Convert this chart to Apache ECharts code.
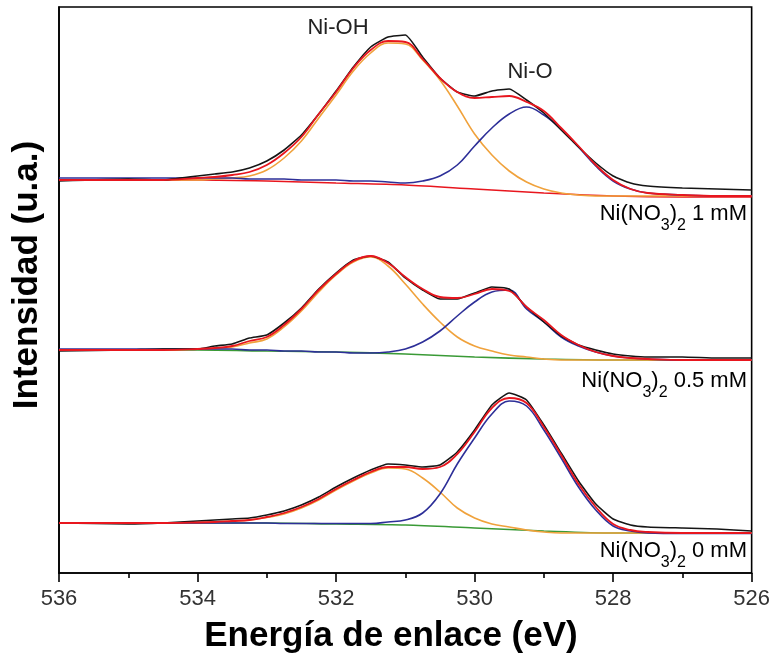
<!DOCTYPE html>
<html>
<head>
<meta charset="utf-8">
<script src="https://cdn.jsdelivr.net/npm/echarts@6/dist/echarts.min.js"></script>
<style>
html,body{margin:0;padding:0;background:#fff;}
#chart{width:773px;height:658px;}
</style>
</head>
<body>
<div id="chart"></div>
<script>
// Binding energy grid (eV) for all curves
const energy = [536, 535, 534.5, 534, 533.75, 533.5, 533.25, 533, 532.75, 532.5, 532.25, 532, 531.75, 531.5, 531.25, 531, 530.75, 530.5, 530.25, 530, 529.75, 529.5, 529.25, 529, 528.75, 528.5, 528.25, 528, 527.75, 527.5, 527, 526.5, 526];

// Ni(NO3)2 1 mM (top)
const raw1mM   = [392,394,393,397,399,401,405,412,423,438,459,482,506,526,536,538,516,495,481,477,482,484,473,460,443,426,410,397,390,387,385,384,383];
const fit1mM   = [393,393,393,395,396,398,401,408,420,436,459,481,505,523,532,531,514,495,481,475,476,477,471,462,445,427,408,393,384,380,378,377,377];
const niOH1mM  = [393,393,393,393,394,395,397,403,415,432,455,478,502,520,530,529,513,493,467,439,418,402,391,384,380,378,377,377,377,377,377,377,377];
const niO1mM   = [395,395,395,395,395,395,394,394,394,393,393,393,392,392,391,390,392,397,408,427,445,459,466,458,444,426,407,392,384,380,378,377,377];
const bgEnergy1mM = [536, 534, 533, 532, 531, 530, 529, 528, 527, 526];
const bg1mM    = [393,393,392,390,388,384,380,377,376,376];

// Ni(NO3)2 0.5 mM (middle)
const raw05mM  = [222,223,224,224,227,229,235,238,250,265,284,300,313,317,311,295,283,274,274,280,286,284,266,251,237,228,223,219,217,216,216,215,215];
const fit05mM  = [223,223,223,224,225,227,232,236,248,264,283,299,312,317,310,296,284,276,275,279,284,282,266,253,238,228,221,217,215,214,213,213,213];
const niOH05mM = [223,223,223,224,224.5,226,230,234,246,262,281,298,311,316,307,289,269,251,236,227,222,218,216,214,213,213,213,213,213,213,213,213,213];
const niO05mM  = [224,224,224,224,224,224,223,223,222,222,221,221,220,220,221,224,231,242,257,271,281,283,264,251,236,227,221,217,215,214,213,213,213];
const bgEnergy05mM = [536, 534, 533, 532, 531, 530, 529, 528, 526];
const bg05mM   = [223,223,222,221,219,216,214,213,213];

// Ni(NO3)2 0 mM (bottom)
const raw0mM   = [50,49,50,52,53,54,55,58,62,68,76,86,95,103,109,108,106,108,121,143,168,180,173,148,120,92,69,54,48,46,45,44,42];
const fit0mM   = [50,50,50,50.5,51,52,53,56,60,66,74,84,93,101,106,106,104,106,119,141,165,175,170,146,118,89,66,49,43,41,40,40,40];
const niOH0mM  = [50,50,50,50.5,51,52,53,55.5,59,65,73,83,92,100,105,104,95,81,65,55,49,46,43,41,40,40,40,40,40,40,40,40,40];
const niO0mM   = [50,50,50,50,50,50,50,50,49.5,49.5,49.5,49.5,49.5,49.5,51,53,60,79,109,135,159,172,167,143,115,86,63,47,42,40,39.5,39.5,39.5];
const bgEnergy0mM = [536, 533, 532, 531, 530, 529, 528, 526];
const bg0mM    = [50,50,49,48,45,42,40,40];

// Axis ticks / labels
const xMin = 526, xMax = 536, xStep = 2;
const peakLabels = ['Ni-OH', 'Ni-O'];
const sampleConc = ['1 mM', '0.5 mM', '0 mM'];

const C = {raw:'#151515', fit:'#e8161e', oh:'#f0a23c', o:'#2d2f98', bgRed:'#e8161e', bgGreen:'#3a9a36'};
const FONT = '"Liberation Sans", Arial, sans-serif';

function pts(xs, ys){ return xs.map((x,i)=>[x, ys[i]]); }
function line(name, xs, ys, color, width, smooth, z){
  return {name, type:'line', data:pts(xs, ys), showSymbol:false, symbol:'none',
    smooth: smooth, lineStyle:{color, width}, itemStyle:{color}, z: z, silent:true};
}

const series = [
  line('bg1', bgEnergy1mM, bg1mM, C.bgRed, 1.6, 0.3, 2),
  line('oh1', energy, niOH1mM, C.oh, 1.6, 0.4, 3),
  line('o1', energy, niO1mM, C.o, 1.6, 0.4, 3),
  line('raw1', energy, raw1mM, C.raw, 1.6, 0.15, 4),
  line('fit1', energy, fit1mM, C.fit, 1.8, 0.4, 5),

  line('bg05', bgEnergy05mM, bg05mM, C.bgGreen, 1.6, 0.3, 2),
  line('oh05', energy, niOH05mM, C.oh, 1.6, 0.4, 3),
  line('o05', energy, niO05mM, C.o, 1.6, 0.4, 3),
  line('raw05', energy, raw05mM, C.raw, 1.6, 0.15, 4),
  line('fit05', energy, fit05mM, C.fit, 1.8, 0.4, 5),

  line('bg0', bgEnergy0mM, bg0mM, C.bgGreen, 1.6, 0.3, 2),
  line('oh0', energy, niOH0mM, C.oh, 1.6, 0.4, 3),
  line('o0', energy, niO0mM, C.o, 1.6, 0.4, 3),
  line('raw0', energy, raw0mM, C.raw, 1.6, 0.15, 4),
  line('fit0', energy, fit0mM, C.fit, 1.8, 0.4, 5)
];

const richStyles = {
  m:{fontSize:22, fontFamily:FONT, color:'#222', lineHeight:40, verticalAlign:'middle'},
  s:{fontSize:16, fontFamily:FONT, color:'#222', lineHeight:16, verticalAlign:'bottom'}
};
function sampleText(conc){ return '{m|Ni(NO}{s|3}{m|)}{s|2}{m| ' + conc + '}'; }

const chart = echarts.init(document.getElementById('chart'), null, {renderer:'canvas'});
chart.setOption({
  animation:false,
  backgroundColor:'#fff',
  grid:{left:59, right:21, top:7, bottom:85, show:true, borderColor:'#000', borderWidth:1.6, backgroundColor:'transparent'},
  xAxis:{
    type:'value', min:xMin, max:xMax, interval:xStep, inverse:true,
    axisLine:{show:true, onZero:false, lineStyle:{color:'#000', width:1.6}},
    axisTick:{show:true, inside:false, length:9, lineStyle:{color:'#000', width:1.6}},
    minorTick:{show:true, splitNumber:2, length:5, lineStyle:{color:'#000', width:1.6}},
    splitLine:{show:false},
    axisLabel:{fontSize:22, color:'#333', fontFamily:FONT, margin:15}
  },
  yAxis:{
    type:'value', min:0, max:566,
    axisLine:{show:true, lineStyle:{color:'#000', width:1.6}},
    axisTick:{show:false}, axisLabel:{show:false}, splitLine:{show:false}
  },
  series: series,
  graphic:[
    {type:'text', x:391, y:636, style:{text:'Energía de enlace (eV)', font:'bold 35px '+FONT, fill:'#000', align:'center', verticalAlign:'middle'}},
    {type:'text', x:27, y:275, rotation:Math.PI/2, style:{text:'Intensidad (u.a.)', font:'bold 35px '+FONT, fill:'#000', align:'center', verticalAlign:'middle'}},
    {type:'text', x:338, y:28, style:{text:peakLabels[0], font:'22px '+FONT, fill:'#222', align:'center', verticalAlign:'middle'}},
    {type:'text', x:530, y:72, style:{text:peakLabels[1], font:'22px '+FONT, fill:'#222', align:'center', verticalAlign:'middle'}},
    {type:'text', x:747, y:214, style:{text:sampleText(sampleConc[0]), rich:richStyles, align:'right', verticalAlign:'middle'}},
    {type:'text', x:747, y:381, style:{text:sampleText(sampleConc[1]), rich:richStyles, align:'right', verticalAlign:'middle'}},
    {type:'text', x:747, y:551, style:{text:sampleText(sampleConc[2]), rich:richStyles, align:'right', verticalAlign:'middle'}}
  ]
});
</script>
</body>
</html>
